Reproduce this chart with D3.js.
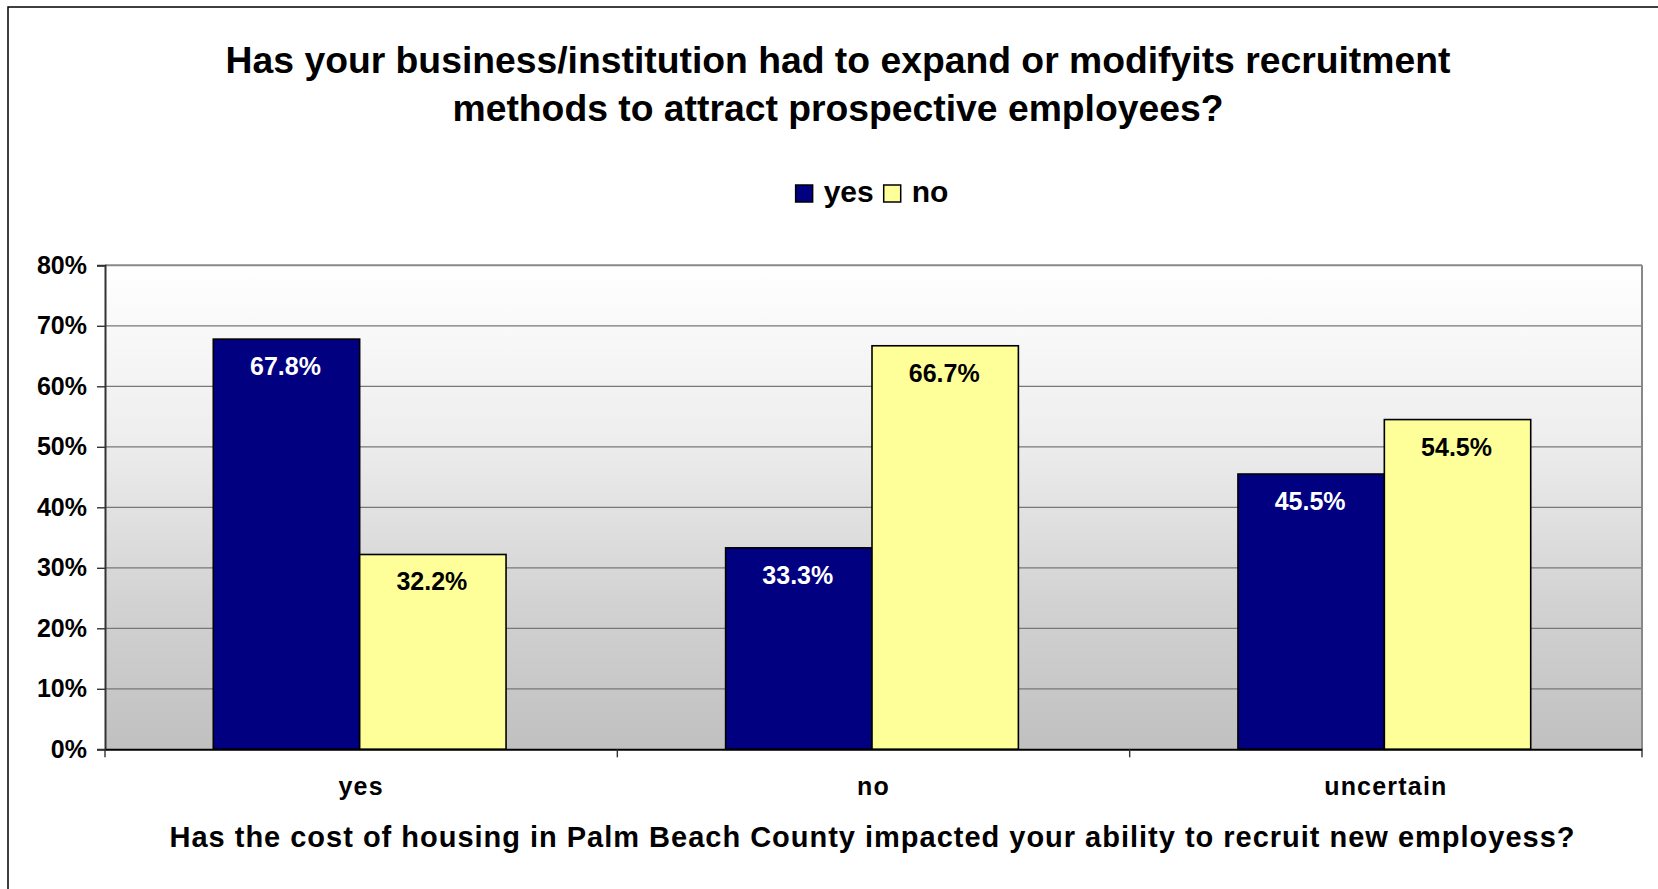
<!DOCTYPE html>
<html>
<head>
<meta charset="utf-8">
<script src="https://cdn.jsdelivr.net/npm/d3@7"></script>
<style>
  html, body { margin: 0; padding: 0; background: #fff; }
  svg { display: block; }
  text { font-family: "Liberation Sans", Arial, Helvetica, sans-serif; font-weight: bold; }
</style>
</head>
<body>
<svg id="chart" width="1658" height="889"></svg>
<script>
// Survey responses, grouped by the answer to the housing-cost question
const categories = ["yes", "no", "uncertain"];
const seriesNames = ["yes", "no"];
const yesValues = [67.8, 33.3, 45.5];
const noValues = [32.2, 66.7, 54.5];
const yTicks = [0, 10, 20, 30, 40, 50, 60, 70, 80];
const titleLines = [
  "Has your business/institution had to expand or modifyits recruitment",
  "methods to attract prospective employees?"
];
const xTitle = "Has the cost of housing in Palm Beach County impacted your ability to recruit new employess?";

const seriesColors = ["#000080", "#FFFF99"];
const labelColors = ["#ffffff", "#000000"];

const svg = d3.select("#chart");

// Outer chart frame
svg.append("rect")
  .attr("x", 8).attr("y", 7)
  .attr("width", 1700).attr("height", 950)
  .attr("fill", "#fff").attr("stroke", "#000").attr("stroke-width", 1.5);

const plot = { left: 105, right: 1642, top: 265.3, bottom: 749.3 };

const x0 = d3.scaleBand().domain(categories).range([plot.left, plot.right]).paddingInner(0).paddingOuter(0);
const groupWidth = x0.bandwidth() * 2 / 3.5;
const x1 = d3.scaleBand().domain(seriesNames).range([0, groupWidth]).padding(0);
const y = d3.scaleLinear().domain([0, 80]).range([plot.bottom, plot.top]);

// Plot background gradient
const defs = svg.append("defs");
const grad = defs.append("linearGradient").attr("id", "plotBg")
  .attr("x1", 0).attr("y1", 0).attr("x2", 0).attr("y2", 1);
grad.append("stop").attr("offset", "0%").attr("stop-color", "#ffffff");
grad.append("stop").attr("offset", "35%").attr("stop-color", "#eeeeee");
grad.append("stop").attr("offset", "70%").attr("stop-color", "#d2d2d2");
grad.append("stop").attr("offset", "100%").attr("stop-color", "#c0c0c0");

svg.append("rect")
  .attr("x", plot.left).attr("y", plot.top)
  .attr("width", plot.right - plot.left).attr("height", plot.bottom - plot.top)
  .attr("fill", "url(#plotBg)");

// Horizontal gridlines
svg.append("g").selectAll("line")
  .data(yTicks.filter(d => d > 0))
  .join("line")
  .attr("x1", plot.left).attr("x2", plot.right)
  .attr("y1", d => y(d)).attr("y2", d => y(d))
  .attr("stroke", d => d === 80 ? "#888" : "#777")
  .attr("stroke-width", d => d === 80 ? 2 : 1.2);

// Right border of the plot area
svg.append("line")
  .attr("x1", plot.right).attr("x2", plot.right)
  .attr("y1", plot.top).attr("y2", plot.bottom)
  .attr("stroke", "#888").attr("stroke-width", 2);

// Bars
const groups = svg.append("g").selectAll("g")
  .data(categories)
  .join("g")
  .attr("transform", c => `translate(${x0(c) + (x0.bandwidth() - groupWidth) / 2 - 1.5},0)`);

const seriesValues = [yesValues, noValues];
groups.selectAll("rect")
  .data((c, i) => seriesNames.map((s, j) => ({ s, j, v: seriesValues[j][i] })))
  .join("rect")
  .attr("x", d => x1(d.s))
  .attr("y", d => y(d.v))
  .attr("width", x1.bandwidth())
  .attr("height", d => y(0) - y(d.v))
  .attr("fill", d => seriesColors[d.j])
  .attr("stroke", "#000")
  .attr("stroke-width", 1.6);

groups.selectAll("text")
  .data((c, i) => seriesNames.map((s, j) => ({ s, j, v: seriesValues[j][i] })))
  .join("text")
  .attr("x", d => x1(d.s) + x1.bandwidth() / 2 - 1)
  .attr("y", d => y(d.v) + 36)
  .attr("text-anchor", "middle")
  .attr("font-size", 25)
  .attr("fill", d => labelColors[d.j])
  .text(d => d.v.toFixed(1) + "%");

// Y axis
const yAxis = d3.axisLeft(y).tickValues(yTicks).tickFormat(d => d + "%").tickSize(8).tickPadding(10);
const yAxisG = svg.append("g").attr("transform", `translate(${plot.left},0)`).call(yAxis);
yAxisG.select(".domain").attr("stroke", "#333").attr("stroke-width", 2);
yAxisG.selectAll(".tick line").attr("stroke", "#333").attr("stroke-width", 1.4);
yAxisG.selectAll(".tick text")
  .attr("font-size", 25).attr("font-weight", "bold")
  .attr("font-family", "'Liberation Sans', Arial, sans-serif")
  .attr("fill", "#000");

// X axis: line at 0% with ticks at category boundaries
const xAxis = d3.axisBottom(x0).tickSize(0).tickPadding(40);
const xAxisG = svg.append("g").attr("transform", `translate(0,${plot.bottom})`).call(xAxis);
xAxisG.select(".domain").attr("stroke", "#000").attr("stroke-width", 2);
xAxisG.selectAll(".tick text")
  .attr("font-size", 25).attr("font-weight", "bold")
  .attr("font-family", "'Liberation Sans', Arial, sans-serif")
  .attr("letter-spacing", 1.2)
  .attr("fill", "#000")
  .attr("dy", "0")
  .attr("y", 46);

const boundaries = categories.map(c => x0(c)).concat([plot.right]);
svg.append("g").selectAll("line")
  .data(boundaries)
  .join("line")
  .attr("x1", d => d).attr("x2", d => d)
  .attr("y1", plot.bottom).attr("y2", plot.bottom + 8)
  .attr("stroke", "#333").attr("stroke-width", 1.4);

// Chart title
svg.append("g").selectAll("text")
  .data(titleLines)
  .join("text")
  .attr("x", 838)
  .attr("y", (d, i) => 73 + i * 48)
  .attr("text-anchor", "middle")
  .attr("font-size", 37.3)
  .attr("fill", "#000")
  .text(d => d);

// X axis title
svg.append("text")
  .attr("x", 872)
  .attr("y", 847)
  .attr("text-anchor", "middle")
  .attr("font-size", 29)
  .attr("textLength", 1405)
  .attr("lengthAdjust", "spacing")
  .attr("fill", "#000")
  .text(xTitle);

// Legend
const legend = svg.append("g");
const items = legend.selectAll("g")
  .data(seriesNames)
  .join("g");
items.append("rect")
  .attr("width", 17).attr("height", 17)
  .attr("y", -17)
  .attr("fill", (d, i) => seriesColors[i])
  .attr("stroke", "#000").attr("stroke-width", 1.5);
items.append("text")
  .attr("x", 28)
  .attr("y", 0)
  .attr("font-size", 30)
  .attr("fill", "#000")
  .text(d => d);
let cursor = 0;
items.each(function () {
  const g = d3.select(this);
  g.attr("transform", `translate(${cursor},0)`);
  cursor += 28 + g.select("text").node().getComputedTextLength() + 10;
});
const legendWidth = cursor - 10;
legend.attr("transform", `translate(${872 - legendWidth / 2},202)`);
</script>
</body>
</html>
